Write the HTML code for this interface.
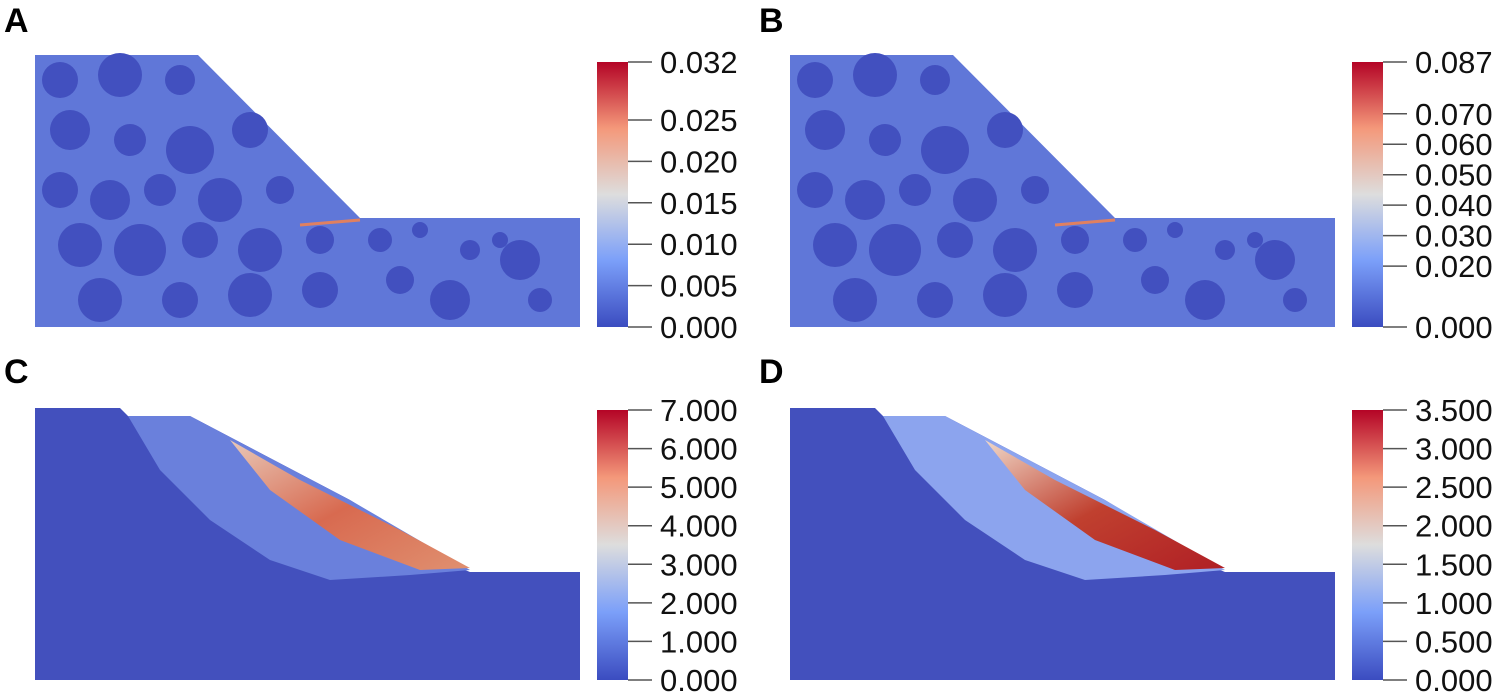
<!DOCTYPE html>
<html><head><meta charset="utf-8"><style>
html,body{margin:0;padding:0;background:#fff;overflow:hidden;}
svg{display:block;}
text{font-family:"Liberation Sans Narrow","Liberation Sans",sans-serif;}
</style></head><body>
<svg id="fig" width="1500" height="694" viewBox="0 0 1500 694" xmlns="http://www.w3.org/2000/svg">
<defs>
<linearGradient id="cw" x1="0" y1="1" x2="0" y2="0">
<stop offset="0" stop-color="#3b4cc0"/><stop offset="0.25" stop-color="#7b9ff9"/><stop offset="0.5" stop-color="#dddddd"/><stop offset="0.75" stop-color="#f4987a"/><stop offset="1" stop-color="#b40426"/>
</linearGradient>
<linearGradient id="bandC" x1="0" y1="0" x2="1" y2="1">
<stop offset="0" stop-color="#e8c8b8"/><stop offset="0.5" stop-color="#d86a50"/><stop offset="1" stop-color="#e09070"/>
</linearGradient>
<linearGradient id="bandD" x1="0" y1="0" x2="1" y2="1">
<stop offset="0" stop-color="#f0d8c8"/><stop offset="0.5" stop-color="#c0402f"/><stop offset="1" stop-color="#b01f25"/>
</linearGradient>
</defs>
<g id="panels"></g>
</svg>
<script>
const panelLabels = ["A","B","C","D"];
const ticksA = [0.000,0.005,0.010,0.015,0.020,0.025,0.032];
const ticksB = [0.000,0.020,0.030,0.040,0.050,0.060,0.070,0.087];
const ticksC = [0,1,2,3,4,5,6,7];
const ticksD = [0,0.5,1,1.5,2,2.5,3,3.5];
const maxA = 0.032, maxB = 0.087, maxC = 7, maxD = 3.5;
const voids = [[60,80,18],[120,75,22],[180,80,15],[70,130,20],[130,140,16],[190,150,24],[250,130,18],[60,190,18],[110,200,20],[160,190,16],[220,200,22],[280,190,14],[80,245,22],[140,250,26],[200,240,18],[260,250,22],[320,240,14],[100,300,22],[180,300,18],[250,295,22],[320,290,18],[380,240,12],[400,280,14],[450,300,20],[520,260,20],[540,300,12],[470,250,10],[420,230,8],[500,240,8]];
const NS="http://www.w3.org/2000/svg";
const root=document.getElementById('panels');
function mk(tag,attrs,parent){const e=document.createElementNS(NS,tag);for(const k in attrs)e.setAttribute(k,attrs[k]);(parent||root).appendChild(e);return e;}
const panels=[
 {label:"A",dx:0,top:55,ticks:ticksA,max:maxA,dec:3,kind:"ab"},
 {label:"B",dx:755,top:55,ticks:ticksB,max:maxB,dec:3,kind:"ab"},
 {label:"C",dx:0,top:406,ticks:ticksC,max:maxC,dec:3,kind:"c"},
 {label:"D",dx:755,top:406,ticks:ticksD,max:maxD,dec:3,kind:"d"}];
panels.forEach((p,i)=>{
 const off=p.top-55;
 const g=mk('g',{transform:`translate(${p.dx},${off})`});
 
 
 const t=mk('text',{x:4,y:32,'font-size':34,'font-weight':'bold'},g);
 
 
 t.textContent=panelLabels[i];
 if(p.kind==="ab"){
  const s=mk('polygon',{points:"35,55 198,55 360,218 580,218 580,327 35,327",fill:'#6077d8'},g);
  
  
  voids.forEach(v=>{
   if(v[1]<218 && v[0]>198+(v[1]-55)-v[2])return;
   const c=mk('circle',{cx:v[0],cy:v[1],r:v[2],fill:'#4250bf'},g);
   
   
  });
  const hl=mk('line',{x1:300,y1:225,x2:360,y2:220,stroke:'#e08060','stroke-width':3},g);
  
  
 } else {
  const sg=mk('g',{transform:`translate(0,${-off})`},g);
  const s=mk('path',{d:"M35,408 L120,408 L130,418 L190,416 L350,500 L460,568 L470,572 L580,572 L580,680 L35,680 Z",fill:'#4350bd'},sg);
  
  
  const z=mk('path',{d:"M128,416 L190,416 L350,500 L470,570 L410,575 L330,580 L270,560 L210,520 L160,470 Z",fill:p.kind==="c"?'#6a80dc':'#8ca4ee'},sg);
  
  
  const b=mk('path',{d:"M230,440 L300,480 L400,530 L470,568 L420,570 L340,540 L270,490 Z",fill:`url(#band${p.kind==="c"?"C":"D"})`},sg);
  
  
 }
 const cbT=p.kind==="ab"?62:59;
 const cbBot=p.kind==="ab"?327:329;
 const yS=v=>cbBot-(v/p.max)*(cbBot-cbT);
 const cb=mk('rect',{x:597,y:cbT,width:31,height:cbBot-cbT,fill:'url(#cw)'},g);
 
 
 p.ticks.forEach(v=>{
  const y=yS(v);
  const l=mk('line',{x1:628,y1:y,x2:652,y2:y,stroke:'#555','stroke-width':1.5},g);
  
  
  const tx=mk('text',{x:660,y:y+11,'font-size':31,fill:'#111'},g);
  
  
  tx.textContent=v.toFixed(p.dec);
 });
});
</script>
</body></html>
